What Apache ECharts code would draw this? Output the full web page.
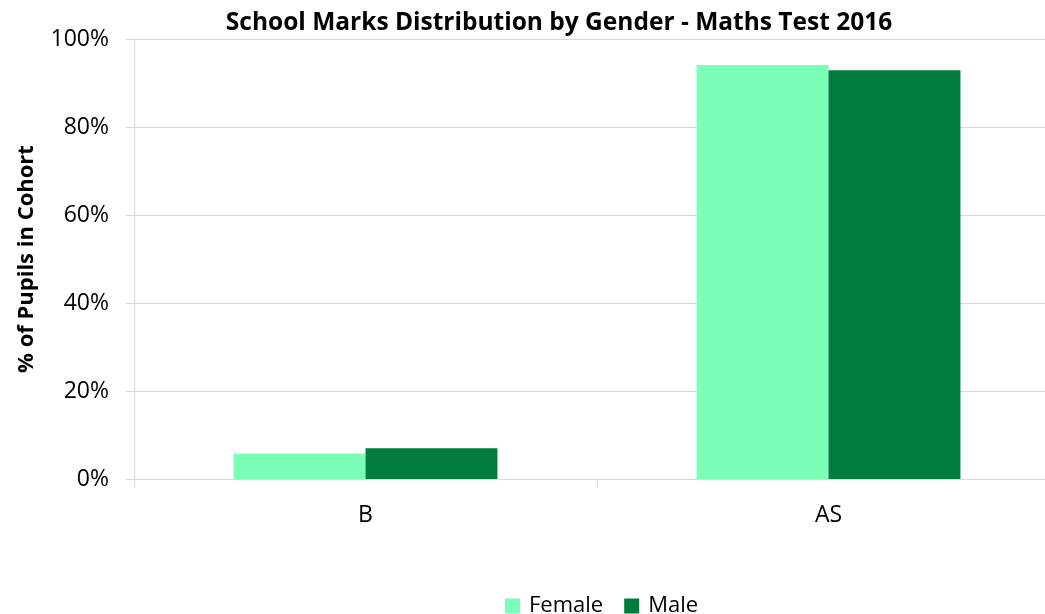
<!DOCTYPE html>
<html>
<head>
<meta charset="utf-8">
<script src="https://cdn.jsdelivr.net/npm/echarts@6/dist/echarts.min.js"></script>
<style>
  html, body { margin: 0; padding: 0; background: #fff; }
  #myChart { width: 1045px; height: 614px; }
</style>
</head>
<body>
<div id="myChart"></div>
<script>
// data
var categories = ['B', 'AS'];
var female = [5.8, 94.1];
var male = [7.0, 92.9];
var yTicks = [0, 20, 40, 60, 80, 100];

var font = '"Open Sans", "Liberation Sans", sans-serif';

var chart = echarts.init(document.getElementById('myChart'));
var options = {
  backgroundColor: '#ffffff',
  animation: false,
  title: {
    text: 'School Marks Distribution by Gender - Maths Test 2016',
    left: 554,
    textAlign: 'center',
    top: 6,
    textStyle: { fontFamily: font, fontSize: 24.5, fontWeight: 'bold', color: '#000' }
  },
  legend: {
    top: 590,
    left: 500,
    itemWidth: 15,
    itemHeight: 15,
    itemGap: 21,
    icon: 'rect',
    textStyle: { fontFamily: font, fontSize: 22, color: '#000', padding: [0, 0, 0, 4] },
    data: ['Female', 'Male']
  },
  grid: {
    left: 134,
    width: 926,
    top: 39,
    height: 440,
    containLabel: false,
    outerBoundsMode: 'none'
  },
  xAxis: {
    type: 'category',
    data: categories,
    axisLine: { lineStyle: { color: '#d9d9d9', width: 1 } },
    axisTick: { show: true, length: 8, lineStyle: { color: '#d9d9d9' } },
    axisLabel: { fontFamily: font, fontSize: 23, color: '#000', margin: 25 }
  },
  yAxis: {
    type: 'value',
    min: yTicks[0],
    max: yTicks[yTicks.length - 1],
    interval: 20,
    name: '% of Pupils in Cohort',
    nameLocation: 'middle',
    nameGap: 96,
    nameTextStyle: { fontFamily: font, fontSize: 22, fontWeight: 'bold', color: '#000' },
    axisLine: { show: true, lineStyle: { color: '#d9d9d9' } },
    axisTick: { show: true, inside: false, length: 8, lineStyle: { color: '#d9d9d9' } },
    axisLabel: {
      fontFamily: font, fontSize: 23, color: '#000', margin: 25,
      formatter: function (v) { return v + '%'; }
    },
    splitLine: { lineStyle: { color: '#d9d9d9', width: 1 } }
  },
  series: [
    {
      name: 'Female',
      type: 'bar',
      data: female,
      barGap: '0%',
      barCategoryGap: '43%',
      itemStyle: { color: '#7bffb7' }
    },
    {
      name: 'Male',
      type: 'bar',
      data: male,
      barGap: '0%',
      barCategoryGap: '43%',
      itemStyle: { color: '#007d3c' }
    }
  ]
};
chart.setOption(options);
</script>
</body>
</html>
